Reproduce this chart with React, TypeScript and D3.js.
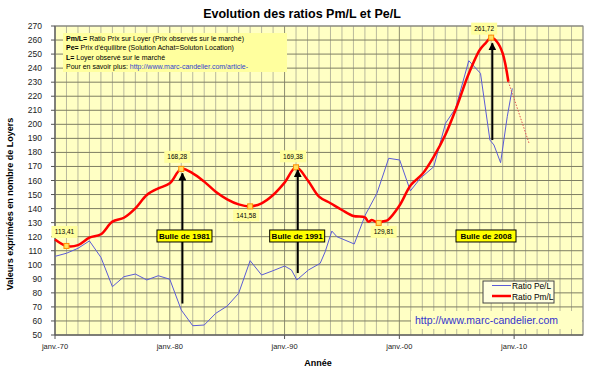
import React from 'react';
import * as d3 from 'd3';

// ---- Data ----
const peYears = [1970, 1971, 1972, 1973, 1974, 1975, 1976, 1977, 1978, 1979, 1980, 1981, 1982, 1983, 1984, 1985, 1986, 1987, 1988, 1989, 1990, 1990.6, 1991.07, 1992.08, 1993.1, 1993.54, 1994.12, 1994.56, 1996.07, 1997.03, 1998.05, 1999.07, 2000.03, 2000.96, 2001.83, 2003.0, 2004.02, 2004.9, 2006.05, 2007.07, 2007.89, 2008.24, 2008.82, 2009.4, 2009.84];
const peValues = [106, 108.2, 111.7, 117, 105.3, 84.4, 91.5, 93.4, 89.2, 92.2, 89.7, 67.8, 56.6, 57.1, 65.4, 70.6, 79.7, 102.9, 92.7, 95.8, 99.1, 96.3, 89.2, 96.3, 101, 109.3, 124, 120, 114.8, 135.4, 150.9, 175.8, 174.6, 152.6, 161.6, 169.8, 200.7, 211.4, 245.3, 236.3, 188.8, 185.3, 172.7, 205.4, 225.6];

const pmYears = [1970, 1971, 1972, 1973, 1974, 1975, 1976, 1977, 1978, 1979, 1980, 1981, 1982, 1983, 1984, 1985, 1986, 1987, 1988, 1989, 1990, 1991, 1992, 1993, 1994, 1995, 1996, 1997, 1997.3, 1997.6, 1998.2, 1998.6, 1999, 2000, 2001, 2002, 2003, 2004, 2005, 2006, 2007, 2007.5, 2008, 2008.5, 2009, 2009.5];
const pmValues = [118, 113.41, 114, 119.3, 121.7, 130.7, 133.5, 140.2, 149.7, 154.4, 158, 168.28, 165.1, 159.2, 152, 146.6, 143, 141.58, 143.8, 149.7, 158.5, 169.38, 160.4, 148.5, 143.8, 139, 134.7, 133.8, 130.7, 131.8, 129.81, 131, 131.9, 142, 156.8, 164.6, 177, 192.4, 212.5, 235.1, 252.9, 257.7, 261.72, 258.8, 250.6, 230.3];

const pmProjYears = [2009.5, 2011.3];
const pmProjValues = [230.3, 186.5];

const markerYears = [1971, 1981, 1987, 1991, 1998.2, 2008];
const markerValues = [113.41, 168.28, 141.58, 169.38, 129.81, 261.72];
const markerLabels = ['113,41', '168,28', '141,58', '169,38', '129,81', '261,72'];

const bubbleLabels = ['Bulle de 1981', 'Bulle de 1991', 'Bulle de 2008'];
const bubbleYears = [1981.28, 1991.1, 2007.55];
const bubbleValue = 120.5;
const arrowYears = [1981.1, 1991.15, 2008.1];
const arrowFrom = [72.4, 94.1, 188.8];
const arrowTo = [165.1, 167.5, 257.7];

const xTickYears = [1970, 1980, 1990, 2000, 2010];
const xTickLabels = ['janv.-70', 'janv.-80', 'janv.-90', 'janv.-00', 'janv.-10'];
const yTicks = d3.range(50, 271, 10);

const seriesNames = ['Ratio Pe/L', 'Ratio Pm/L'];

// ---- Layout ----
const W = 599, H = 373;
const L = 55, R = 583, T = 26, B = 335;
const FONT = '"Liberation Sans", Arial, sans-serif';

export default function App() {
  const x = d3.scaleLinear().domain([1970, 2016]).range([L, R]);
  const y = d3.scaleLinear().domain([50, 270]).range([B, T]);

  const blueLine = d3.line<number>().x((_, i) => x(peYears[i])).y((d) => y(d));
  const redLine = d3.line<number>().x((_, i) => x(pmYears[i])).y((d) => y(d)).curve(d3.curveCatmullRom.alpha(0.5));
  const projLine = d3.line<number>().x((_, i) => x(pmProjYears[i])).y((d) => y(d));

  const allYears = d3.range(1970, 2017, 1);
  const labelPlace = [
    { dx: -2, dy: -14 },
    { dx: -4, dy: -12 },
    { dx: -4, dy: 9 },
    { dx: -3, dy: -11 },
    { dx: 5, dy: 9 },
    { dx: -7, dy: -9 },
  ];

  return (
    <svg width={W} height={H} style={{ position: 'absolute', left: 0, top: 0, background: '#fff' }} fontFamily={FONT}>
      <defs>
        <marker id="ah" viewBox="0 0 10 10" refX="9" refY="5" markerWidth="4" markerHeight="4" orient="auto">
          <path d="M0,0 L10,5 L0,10 z" fill="#000" />
        </marker>
        <clipPath id="infoClip">
          <rect x={63} y={33} width={224} height={39} />
        </clipPath>
      </defs>

      {/* Title */}
      <text x={302} y={18} textAnchor="middle" fontWeight="bold" fontSize={12.5}>Evolution des ratios Pm/L et Pe/L</text>

      {/* Plot background */}
      <rect x={L} y={T} width={R - L} height={B - T} fill="#FFFFC4" />

      {allYears.map((yr) => (
        <line key={'v' + yr} x1={x(yr)} x2={x(yr)} y1={T} y2={B}
          stroke={yr % 10 === 0 ? '#8E8E70' : '#B9B99C'} strokeWidth={1} />
      ))}
      {yTicks.map((v) => (
        <line key={'h' + v} x1={L} x2={R} y1={y(v)} y2={y(v)} stroke="#7E7E62" strokeWidth={1} />
      ))}
      <rect x={L} y={T} width={R - L} height={B - T} fill="none" stroke="#8E8E8E" strokeWidth={1} />

      {/* Axes */}
      <line x1={L} x2={L} y1={T} y2={B} stroke="#555" strokeWidth={1} />
      <line x1={L} x2={R} y1={B} y2={B} stroke="#555" strokeWidth={1} />
      {yTicks.map((v) => (
        <g key={'yt' + v}>
          <line x1={L - 4} x2={L} y1={y(v)} y2={y(v)} stroke="#555" />
          <text x={L - 13} y={y(v) + 3} textAnchor="end" fontSize={8.5} fill="#222">{v}</text>
        </g>
      ))}
      {xTickYears.map((yr, i) => (
        <g key={'xt' + yr}>
          <line x1={x(yr)} x2={x(yr)} y1={B} y2={B + 4} stroke="#555" />
          <text x={x(yr)} y={B + 14} textAnchor="middle" fontSize={7.5} fill="#222">{xTickLabels[i]}</text>
        </g>
      ))}

      {/* Axis titles */}
      <text transform={`translate(13,204) rotate(-90)`} textAnchor="middle" fontWeight="bold" fontSize={9}>Valeurs exprimées en nombre de Loyers</text>
      <text x={318} y={366} textAnchor="middle" fontWeight="bold" fontSize={9}>Année</text>

      {/* Info box */}
      <rect x={63} y={33} width={224} height={39} fill="#FFFF9E" />
      <g clipPath="url(#infoClip)" fontSize={7}>
        <text x={66} y={41}><tspan fontWeight="bold">Pm/L=</tspan> Ratio Prix sur Loyer (Prix observés sur le marché)</text>
        <text x={66} y={50.3}><tspan fontWeight="bold">Pe=</tspan> Prix d'équilibre (Solution Achat=Soluton Location)</text>
        <text x={66} y={59.6}><tspan fontWeight="bold">L=</tspan> Loyer observé sur le marché</text>
        <text x={66} y={68.9}>Pour en savoir plus: <tspan fill="#3344CC">http://www.marc-candelier.com/article-</tspan></text>
        <text x={66} y={78.2} fill="#3344CC">36071557.html</text>
      </g>

      {/* URL box */}
      <rect x={411} y={311} width={171} height={18} fill="#FFFFC4" />
      <text x={415} y={324} fontSize={10.5} fill="#3333CC">http://www.marc-candelier.com</text>

      {/* Legend */}
      <rect x={483} y={281} width={71} height={22} fill="#FFFFE0" stroke="#444" strokeWidth={1} />
      <line x1={492} x2={511} y1={285.5} y2={285.5} stroke="#5B5BD6" strokeWidth={1} />
      <text x={512} y={289} fontSize={8.4}>{seriesNames[0]}</text>
      <line x1={492} x2={511} y1={296} y2={296} stroke="#FF0000" strokeWidth={2.5} />
      <text x={512} y={299.5} fontSize={8.4}>{seriesNames[1]}</text>

      {/* Series */}
      <path d={blueLine(peValues) || ''} fill="none" stroke="#5B5BD6" strokeWidth={1} />
      <path d={redLine(pmValues) || ''} fill="none" stroke="#FF0000" strokeWidth={2.5} strokeLinejoin="round" />
      <path d={projLine(pmProjValues) || ''} fill="none" stroke="#E05050" strokeWidth={1} strokeDasharray="1.5,1.5" />

      {/* Markers + labels */}
      {markerYears.map((yr, i) => {
        const mx = x(yr), my = y(markerValues[i]);
        const lx = mx + labelPlace[i].dx, ly = my + labelPlace[i].dy;
        return (
          <g key={'m' + i}>
            <rect x={lx - 13} y={ly - 6} width={26} height={12} fill="#FFFF9E" />
            <text x={lx} y={ly + 2.3} textAnchor="middle" fontSize={6.5}>{markerLabels[i]}</text>
            <rect x={mx - 2.5} y={my - 2.5} width={5} height={5} fill="#FFE060" stroke="#FF8C00" strokeWidth={1} />
          </g>
        );
      })}

      {/* Arrows */}
      {arrowYears.map((yr, i) => (
        <line key={'a' + i} x1={x(yr)} x2={x(yr)} y1={y(arrowFrom[i])} y2={y(arrowTo[i])}
          stroke="#000" strokeWidth={2} markerEnd="url(#ah)" />
      ))}

      {/* Bubble labels */}
      {bubbleLabels.map((lab, i) => {
        const cx = x(bubbleYears[i]), cy = y(bubbleValue);
        const w = i === 2 ? 60 : 55;
        return (
          <g key={'b' + i}>
            <rect x={cx - w / 2} y={cy - 6} width={w} height={12} fill="#FFFF00" stroke="#000" strokeWidth={1} />
            <text x={cx} y={cy + 3} textAnchor="middle" fontSize={8} fontWeight="bold">{lab}</text>
          </g>
        );
      })}
    </svg>
  );
}
